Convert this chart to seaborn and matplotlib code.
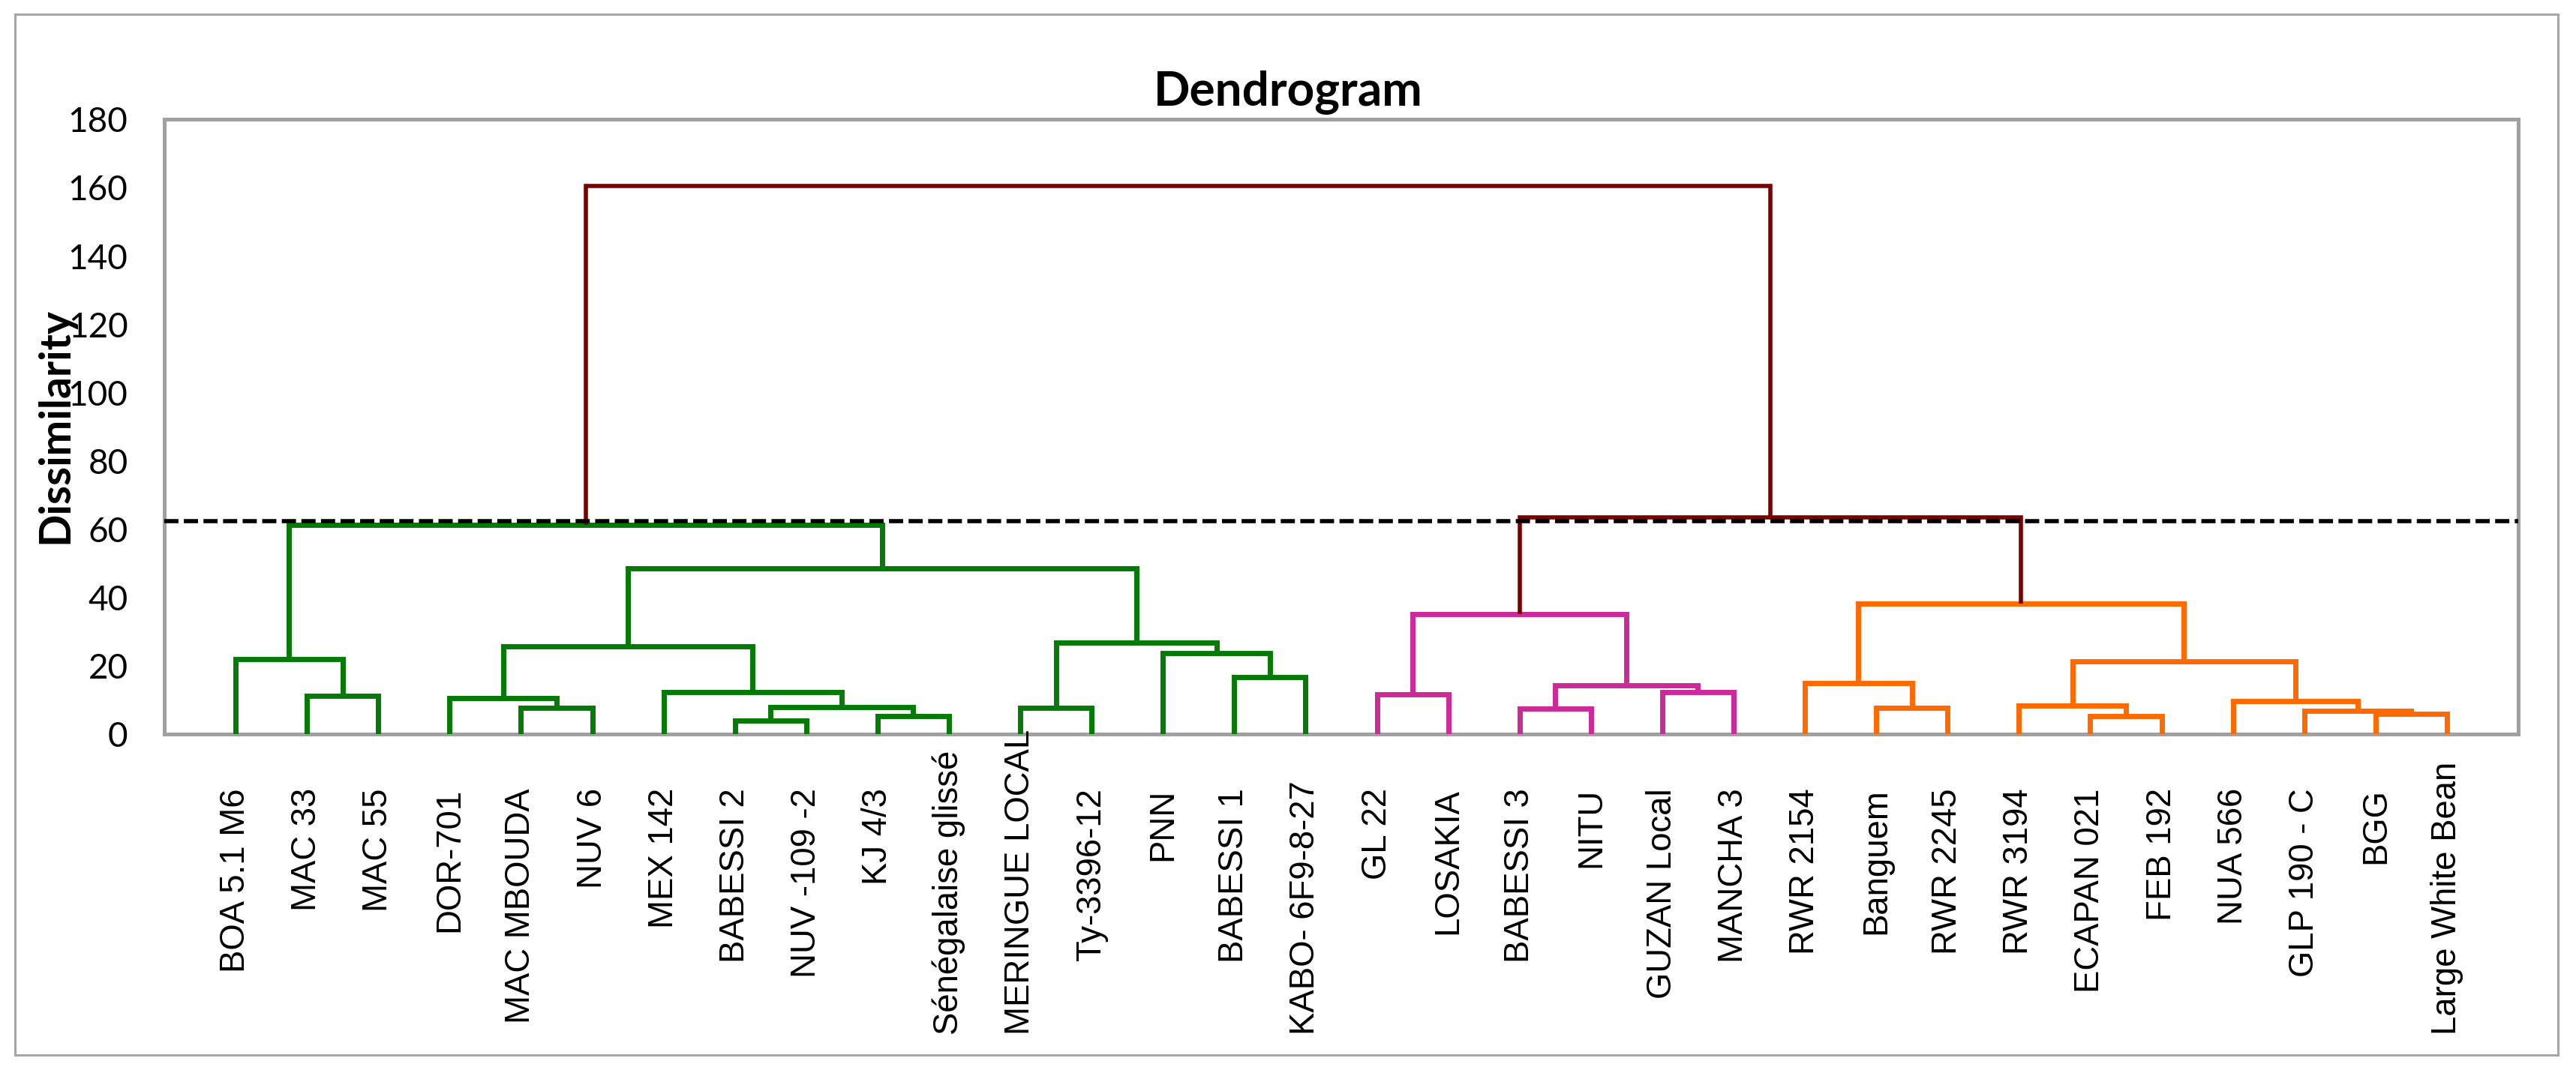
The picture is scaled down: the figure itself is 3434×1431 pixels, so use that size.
import numpy as np
import pandas as pd
import matplotlib
matplotlib.use("Agg")
import matplotlib.pyplot as plt
import seaborn as sns
from matplotlib.patches import Rectangle

# leaves, in the order they appear along the x axis
labels = ["BOA 5.1 M6", "MAC 33", "MAC 55", "DOR-701", "MAC MBOUDA", "NUV 6",
          "MEX 142", "BABESSI 2", "NUV -109 -2", "KJ 4/3", "Sénégalaise glissé",
          "MERINGUE LOCAL", "Ty-3396-12", "PNN", "BABESSI 1", "KABO- 6F9-8-27",
          "GL 22", "LOSAKIA", "BABESSI 3", "NITU", "GUZAN Local", "MANCHA 3",
          "RWR 2154", "Banguem", "RWR 2245", "RWR 3194", "ECAPAN 021", "FEB 192",
          "NUA 566", "GLP 190 - C", "BGG", "Large White Bean"]
groups = ["C1"] * 16 + ["C2"] * 6 + ["C3"] * 10

# linkage, scipy style: new node ids start at len(labels)
merge_left = [7, 26, 9, 30, 29, 18, 4, 11, 23, 32, 25, 28, 3, 1, 16, 20,
              6, 37, 22, 14, 42, 0, 13, 44, 39, 46, 50, 55, 53, 57, 60]
merge_right = [8, 27, 10, 31, 35, 19, 5, 12, 24, 34, 33, 36, 38, 2, 17, 21,
               41, 47, 40, 15, 43, 45, 51, 48, 54, 49, 52, 56, 59, 58, 61]
merge_height = [4.0, 5.2, 5.3, 5.9, 6.7, 7.4, 7.6, 7.6, 7.6, 7.8, 8.4, 9.7,
                10.5, 11.1, 11.6, 12.3, 12.4, 14.2, 14.9, 16.6, 21.4, 21.9,
                23.7, 25.6, 26.9, 35.2, 38.2, 48.5, 61.3, 63.4, 160.6]
cut_level = 62.3

yticks = list(range(0, 181, 20))

palette = {"C1": "#067a06", "C2": "#cc2a98", "C3": "#ff6a00"}
maroon = "#7a0000"
grey = "#a0a0a0"

# build the U-shaped segments of the tree
n = len(labels)
node_x = {i: i + 1 for i in range(n)}
node_y = {i: 0.0 for i in range(n)}
node_grp = {i: groups[i] for i in range(n)}
rows = []
for k, (a, b, h) in enumerate(zip(merge_left, merge_right, merge_height)):
    nid = n + k
    grp = node_grp[a] if h < cut_level else "top"
    pts = [(node_x[a], node_y[a]), (node_x[a], h), (node_x[b], h), (node_x[b], node_y[b])]
    for step, (x, y) in enumerate(pts):
        rows.append({"node": nid, "step": step, "x": x, "y": y, "cluster": grp})
    node_x[nid] = (node_x[a] + node_x[b]) / 2
    node_y[nid] = h
    node_grp[nid] = grp
seg = pd.DataFrame(rows)

sns.set_style("white")
plt.rcParams["font.family"] = ["Lato", "DejaVu Sans"]
plt.rcParams["text.color"] = "black"

fig = plt.figure(figsize=(17.17, 7.155), dpi=200)
ax = fig.add_axes([0.06377, 0.31586, 0.91381, 0.57275])

sns.lineplot(data=seg[seg.cluster != "top"], x="x", y="y", hue="cluster",
             units="node", estimator=None, sort=False, palette=palette,
             linewidth=2.5, legend=False, ax=ax,
             solid_capstyle="butt", solid_joinstyle="miter", zorder=3)
sns.lineplot(data=seg[seg.cluster == "top"], x="x", y="y",
             units="node", estimator=None, sort=False, color=maroon,
             linewidth=2.0, legend=False, ax=ax,
             solid_capstyle="butt", solid_joinstyle="miter", zorder=3)

ax.axhline(cut_level, color="black", lw=2.0, ls=(0, (3.4, 1.3)), zorder=5)

ax.set_xlim(0, n + 1)
ax.set_ylim(0, 180)
ax.set_xticks([])
ax.set_yticks(yticks)
ax.set_xlabel("")
ax.set_ylabel("")
ax.tick_params(axis="y", direction="inout", length=11.9, width=2.0,
               color=grey, pad=11.5, labelsize=16.5, labelcolor="black")
for side in ["left", "right", "top", "bottom"]:
    ax.spines[side].set_color(grey)
    ax.spines[side].set_linewidth(1.8)
    ax.spines[side].set_zorder(1)

# leaf labels, top aligned under the axis; pushed up if they'd run past the floor
texts = []
for i, lab in enumerate(labels):
    t = ax.annotate(lab, xy=(i + 1, 0), xycoords=("data", "axes fraction"),
                    xytext=(0, -26), textcoords="offset points",
                    rotation=90, ha="center", va="top", fontsize=16.4,
                    color="black", family=["Liberation Sans", "DejaVu Sans"])
    texts.append(t)

fig.text(0.5, 0.9022, "Dendrogram", ha="center", va="baseline",
         fontsize=23, fontweight="bold", color="black")
fig.text(0.02155, 0.6031, "Dissimilarity", ha="center", va="center",
         rotation=90, fontsize=20.5, fontweight="bold", color="black")

fig.patches.append(Rectangle((0.00582, 0.01677), 0.98719, 0.96995,
                             transform=fig.transFigure, fill=False,
                             edgecolor="#a6a6a6", lw=1.1))

fig.canvas.draw()
renderer = fig.canvas.get_renderer()
floor = 51.0
for t in texts:
    bb = t.get_window_extent(renderer)
    if bb.y0 < floor:
        shift = (floor - bb.y0) * 72.0 / fig.dpi
        t.xyann = (0, t.xyann[1] + shift)

fig.savefig("out.png", dpi=200)
